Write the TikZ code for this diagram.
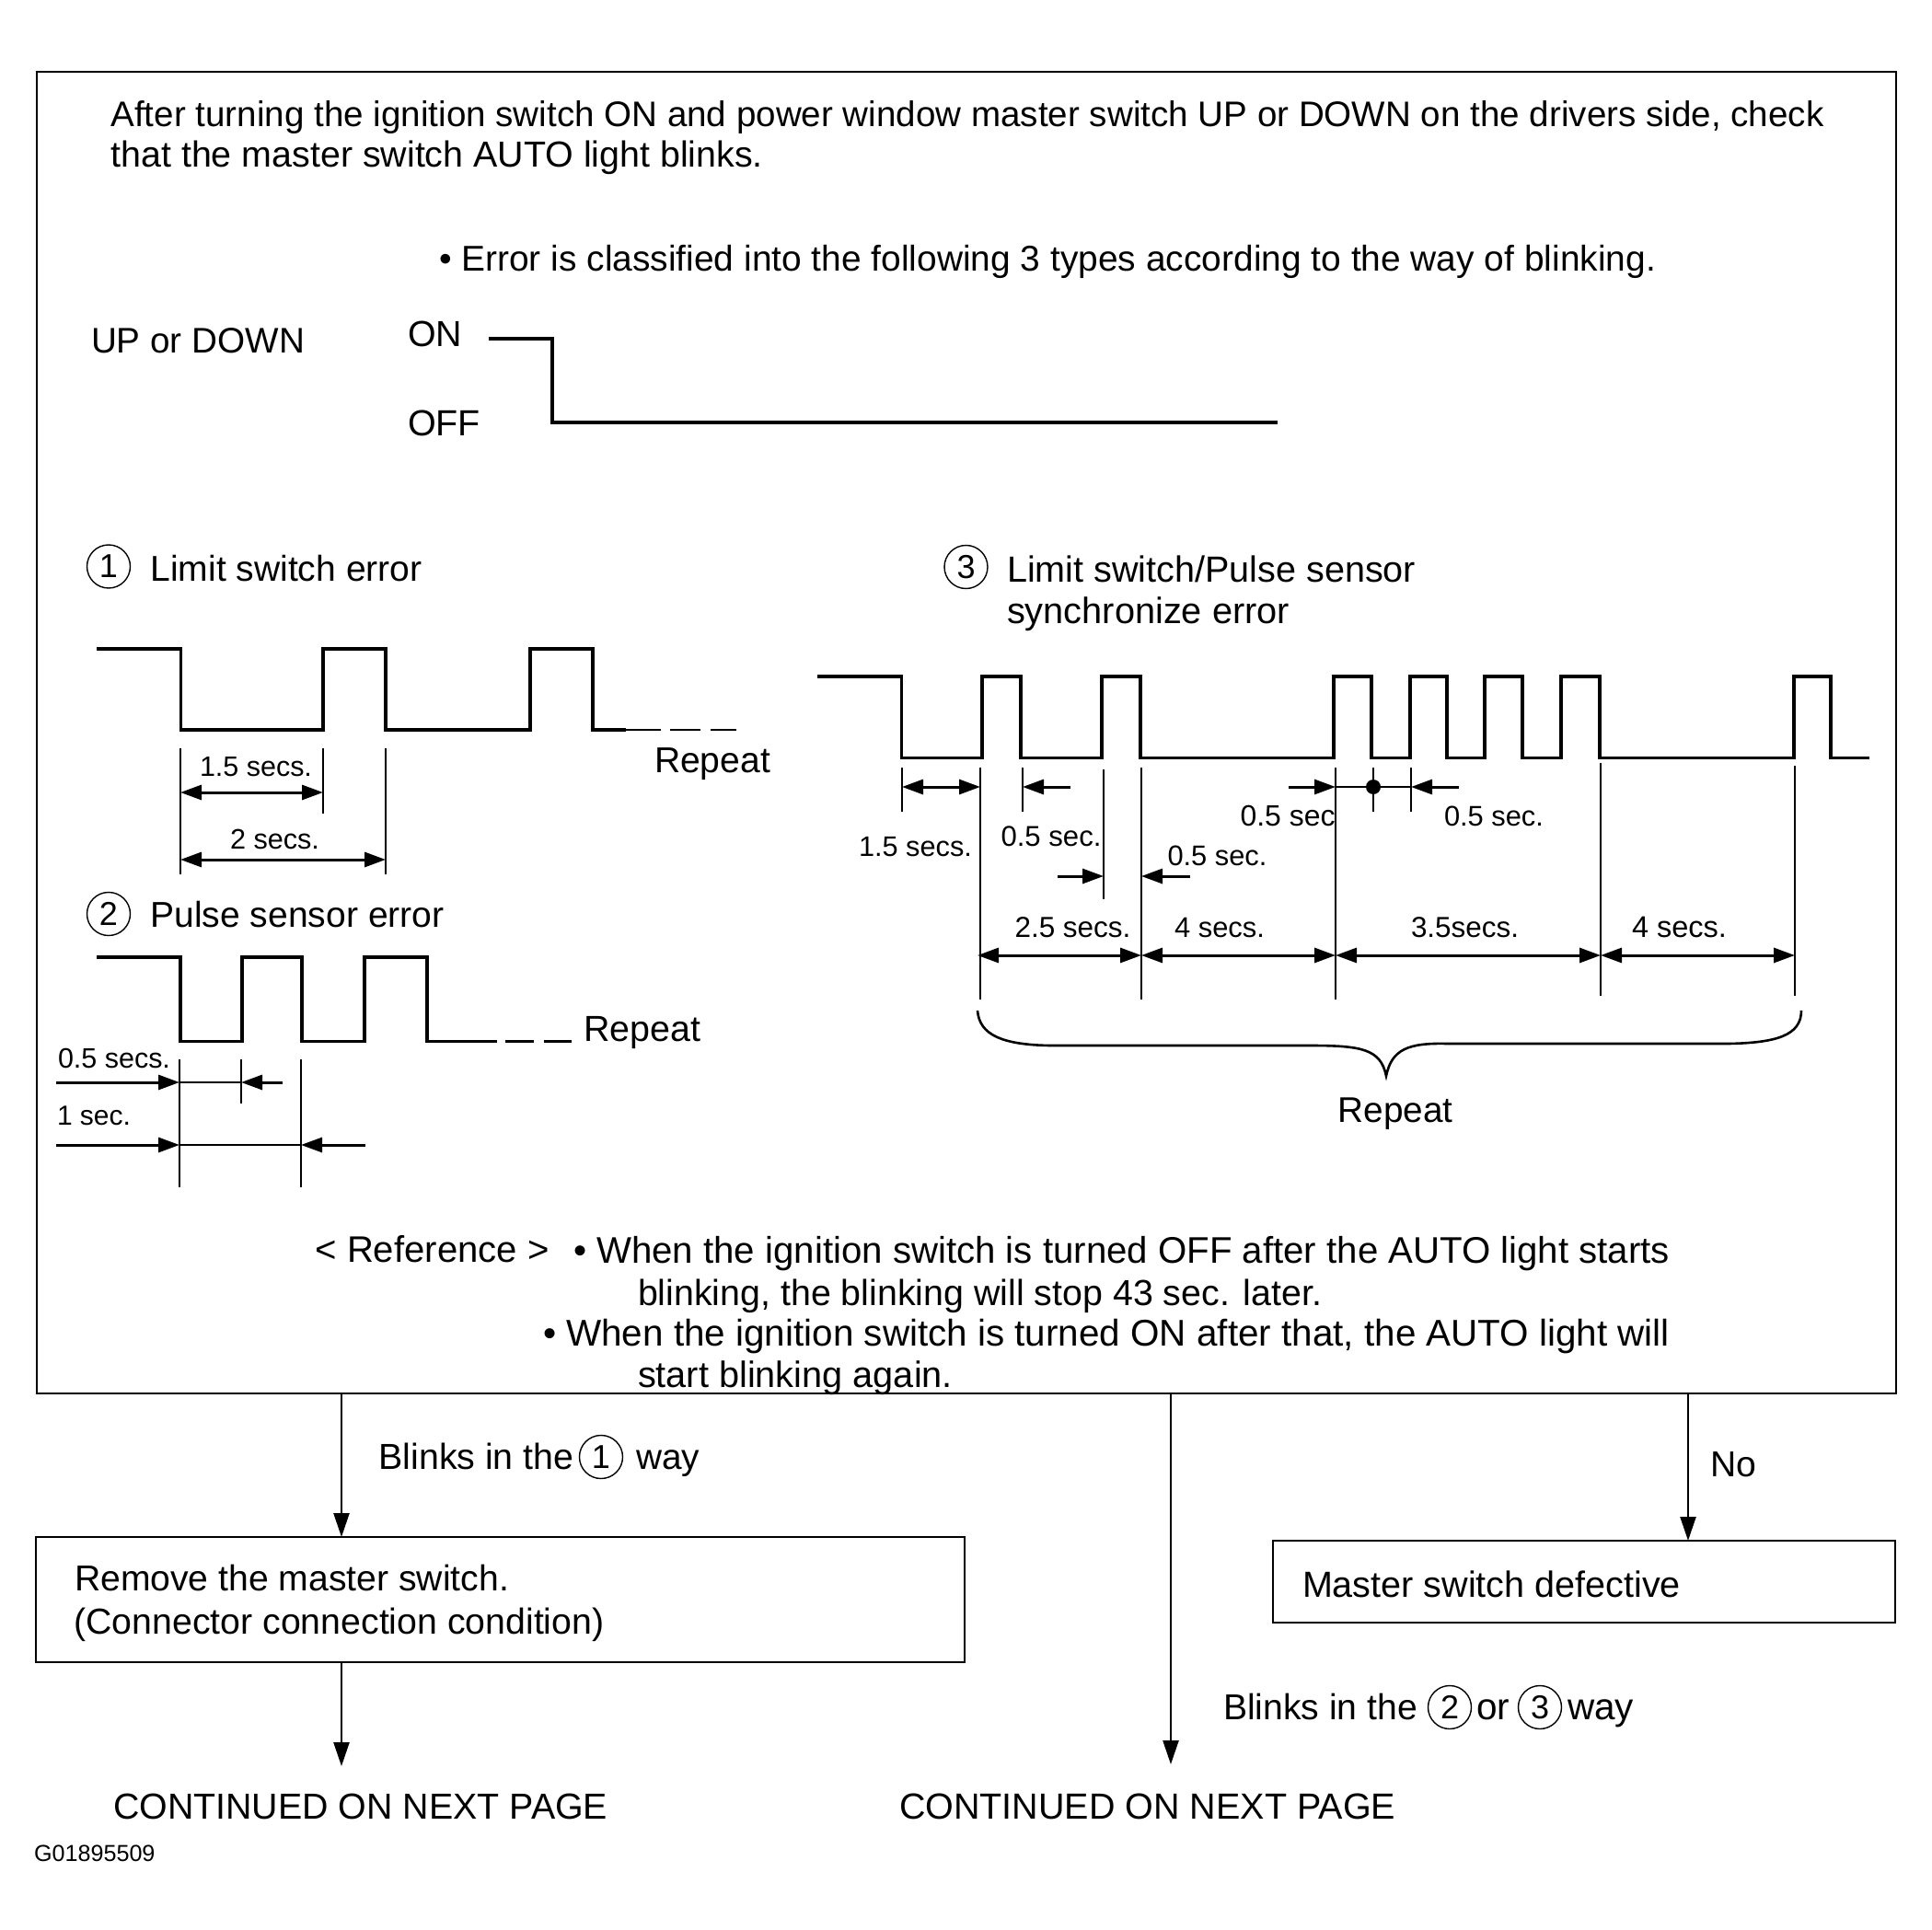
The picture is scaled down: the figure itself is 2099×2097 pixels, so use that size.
\documentclass[tikz,border=0pt]{standalone}
\usepackage{graphicx}
\usepackage{fontspec}
\setmainfont{Liberation Sans}
\usetikzlibrary{arrows.meta}
\tikzset{
  txt/.style={anchor=base west,inner sep=0pt,outer sep=0pt,text=black},
  boxn/.style={draw=black,line width=1.4pt,inner sep=0pt,outer sep=0pt,rectangle},
  wave/.style={draw=black,line width=1.7pt,line join=miter},
  waveend/.style={draw=black,line width=1.1pt},
  tick/.style={draw=black,line width=1.1pt},
  thin line/.style={draw=black,line width=0.8pt},
  brace/.style={draw=black,line width=1.3pt},
  dimboth/.style={draw=black,line width=1.5pt,{Triangle[length=11.5pt,width=8pt]}-{Triangle[length=11.5pt,width=8pt]}},
  dimone/.style={draw=black,line width=1.5pt,-{Triangle[length=11.5pt,width=8pt]}},
  flow/.style={draw=black,line width=1.2pt,-{Triangle[length=13pt,width=8.5pt]}},
  num/.style={draw=black,circle,line width=0.7pt,minimum size=23.5pt,inner sep=0pt,font=\fontsize{18}{18}\selectfont},
}
\newcommand\T[5]{\node[txt] (#1) at (#2,#3) {\resizebox{\dimexpr #4pt/2\relax}{!}{#5}};}
\begin{document}
\begin{tikzpicture}[x=0.5pt,y=-0.5pt]
\useasboundingbox (0,0) rectangle (2099,2097);
% boxes
\node[boxn,minimum width=1010pt,minimum height=718pt] (mainbox) at (1050,796) {};
\node[boxn,minimum width=504.5pt,minimum height=68pt] (box2) at (543.5,1738) {};
\node[boxn,minimum width=338pt,minimum height=44.5pt] (box3) at (1721,1718.5) {};
% header
\T{h1}{120.5}{138}{1861}{After turning the ignition switch ON and power window master switch UP or DOWN on the drivers side, check}
\T{h2}{120.5}{182}{708.5}{that the master switch AUTO light blinks.}
\T{h3}{477}{294.5}{1322}{• Error is classified into the following 3 types according to the way of blinking.}
\T{updown}{99}{384}{232}{UP or DOWN}
\T{on}{443}{377}{59}{ON}
\T{off}{443}{474}{79}{OFF}
\draw[wave] (531,368) -- (600,368) -- (600,459) -- (1388,459);
% error 1
\node[num] (n1) at (118,615.5) {1};
\T{e1}{163.5}{631}{295}{Limit switch error}
\draw[wave] (105,705) -- (196.5,705) -- (196.5,793) -- (351,793) -- (351,705) -- (419,705) -- (419,793) -- (576,793) -- (576,705) -- (644,705) -- (644,793) -- (680,793);
\draw[waveend] (680,793) -- (718,793) (728,793) -- (761,793) (772,793) -- (800,793);
\T{r1}{711}{839.5}{126}{Repeat}
\draw[tick] (196,813) -- (196,950) (351,813) -- (351,884) (419,813) -- (419,950);
\draw[dimboth] (196,861) -- (351,861);
\draw[dimboth] (196,934) -- (419,934);
\T{d1}{217}{843}{122}{1.5 secs.}
\T{d2}{250}{922}{97}{2 secs.}
% error 2
\node[num] (n2) at (118,993) {2};
\T{e2}{163.5}{1007.5}{319}{Pulse sensor error}
\draw[wave] (105,1040) -- (196,1040) -- (196,1131.5) -- (263,1131.5) -- (263,1040) -- (328,1040) -- (328,1131.5) -- (396,1131.5) -- (396,1040) -- (464,1040) -- (464,1131.5) -- (505,1131.5);
\draw[waveend] (505,1131.5) -- (540,1131.5) (549,1131.5) -- (580,1131.5) (591,1131.5) -- (621,1131.5);
\T{r2}{634}{1131}{127}{Repeat}
\draw[tick] (195,1151) -- (195,1290) (262,1151) -- (262,1199) (327,1151) -- (327,1290);
\T{d3}{63}{1160}{122}{0.5 secs.}
\T{d4}{62}{1222.5}{80}{1 sec.}
\draw[dimone] (61,1176) -- (195,1176);
\draw[thin line] (195,1176) -- (262,1176);
\draw[dimone] (307,1176) -- (262,1176);
\draw[dimone] (61,1244) -- (195,1244);
\draw[thin line] (195,1244) -- (327,1244);
\draw[dimone] (397,1244) -- (327,1244);
% error 3
\node[num] (n3) at (1049.5,616) {3};
\T{e3}{1094}{632}{444}{Limit switch/Pulse sensor}
\T{e3b}{1094}{677}{307}{synchronize error}
\draw[wave] (888,735) -- (979.5,735) -- (979.5,823.5) -- (1067,823.5) -- (1067,735) -- (1109,735) -- (1109,823.5) -- (1197,823.5) -- (1197,735) -- (1239,735) -- (1239,823.5) -- (1449,823.5) -- (1449,735) -- (1490,735) -- (1490,823.5) -- (1532,823.5) -- (1532,735) -- (1572,735) -- (1572,823.5) -- (1613,823.5) -- (1613,735) -- (1654,735) -- (1654,823.5) -- (1696,823.5) -- (1696,735) -- (1738,735) -- (1738,823.5) -- (1949,823.5) -- (1949,735) -- (1989,735) -- (1989,823.5) -- (2031,823.5);
\draw[tick] (980,834) -- (980,882) (1065,834) -- (1065,1086) (1111,834) -- (1111,882) (1199,836) -- (1199,977) (1240,834) -- (1240,1086) (1451,834) -- (1451,1086) (1492,834) -- (1492,882) (1533,834) -- (1533,882) (1739,829) -- (1739,1082) (1950,832) -- (1950,1082);
\draw[dimboth] (980,855) -- (1065,855);
\draw[dimone] (1163,855) -- (1111,855);
\draw[dimone] (1400,855) -- (1451,855);
\draw[thin line] (1451,855) -- (1533,855);
\fill[black] (1492,855) circle[radius=4pt];
\draw[dimone] (1585,855) -- (1533,855);
\draw[dimone] (1149,952) -- (1199,952);
\draw[dimone] (1293,952) -- (1240,952);
\draw[dimboth] (1062,1038) -- (1240,1038);
\draw[dimboth] (1240,1038) -- (1451,1038);
\draw[dimboth] (1451,1038) -- (1739,1038);
\draw[dimboth] (1739,1038) -- (1950,1038);
\T{d5}{933}{930}{123}{1.5 secs.}
\T{d6}{1087.5}{919.5}{109}{0.5 sec.}
\T{d7}{1347.5}{897}{103}{0.5 sec}
\T{d8}{1569}{897}{108}{0.5 sec.}
\T{d9}{1268.5}{940}{108}{0.5 sec.}
\T{d10}{1102.5}{1018}{126}{2.5 secs.}
\T{d11}{1276}{1018}{98}{4 secs.}
\T{d12}{1533}{1018}{117}{3.5secs.}
\T{d13}{1773}{1018}{103}{4 secs.}
\draw[brace] (1062,1098) .. controls (1064,1125) and (1090,1135) .. (1140,1136) -- (1423,1136) .. controls (1480,1136) and (1500,1140) .. (1506,1169) .. controls (1512,1140) and (1530,1133) .. (1572,1134) -- (1878,1134) .. controls (1930,1133) and (1957,1125) .. (1957,1098);
\T{r3}{1453.5}{1219.5}{125}{Repeat}
% reference
\T{ref}{342.5}{1371}{254}{< Reference >}
\T{ref1}{623}{1372}{1191}{• When the ignition switch is turned OFF after the AUTO light starts}
\T{ref2}{693}{1418}{743}{blinking, the blinking will stop 43 sec. later.}
\T{ref3}{590}{1462.5}{1224}{• When the ignition switch is turned ON after that, the AUTO light will}
\T{ref4}{693}{1507.5}{342}{start blinking again.}
% flow
\coordinate (c1) at (371,1600);
\coordinate (c2) at (1272,1917);
\coordinate (c3) at (1834,1600);
\coordinate (c4) at (371,1919);
\draw[flow] (c1 |- mainbox.south) -- (c1 |- box2.north);
\draw[flow] (c2 |- mainbox.south) -- (c2);
\draw[flow] (c3 |- mainbox.south) -- (c3 |- box3.north);
\draw[flow] (c4 |- box2.south) -- (c4);
\T{b1}{411.5}{1596}{212}{Blinks in the}
\node[num] (n4) at (653,1583) {1};
\T{b1w}{691}{1596}{69}{way}
\T{no}{1858}{1604}{50}{No}
\T{m1}{81}{1728.5}{472}{Remove the master switch.}
\T{m2}{80.5}{1775.5}{576}{(Connector connection condition)}
\T{m3}{1415}{1735}{411}{Master switch defective}
\T{b2}{1329}{1868}{211}{Blinks in the}
\node[num] (n5) at (1575,1855) {2};
\T{b2o}{1604}{1868}{36}{or}
\node[num] (n6) at (1673,1855) {3};
\T{b2w}{1703}{1868}{72}{way}
\T{c5}{123}{1976}{537}{CONTINUED ON NEXT PAGE}
\T{c6}{977}{1976}{539}{CONTINUED ON NEXT PAGE}
\T{g}{37}{2022}{131.5}{G01895509}
\end{tikzpicture}
\end{document}
